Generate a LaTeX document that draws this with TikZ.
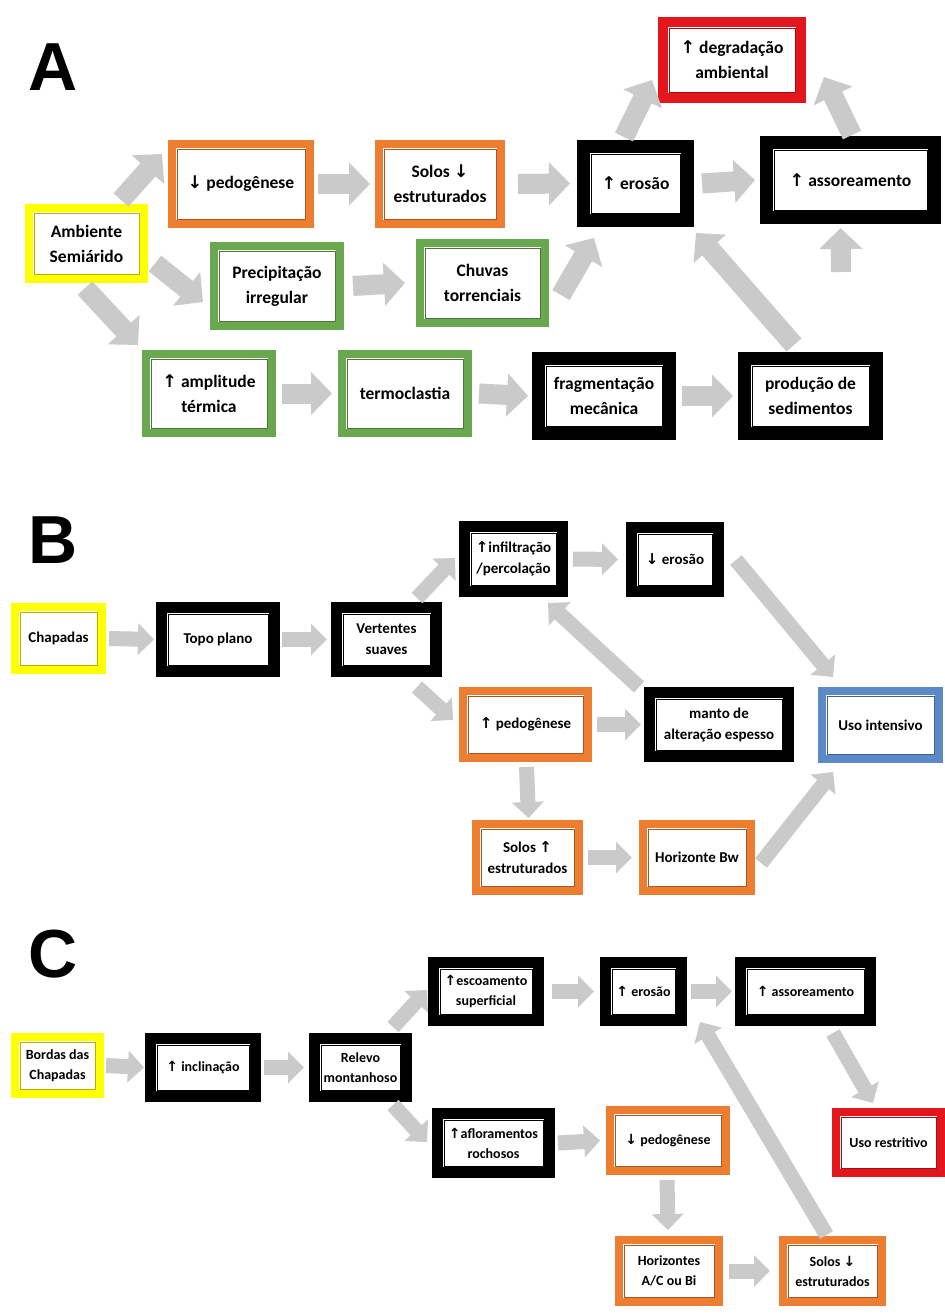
\documentclass[tikz,border=0pt]{standalone}
\usepackage{fontspec}
\setmainfont{Carlito}
\newfontfamily\arrfont{DejaVu Sans}
\newfontfamily\letfont{Liberation Sans}
\usetikzlibrary{arrows.meta,calc}
\newcommand\UA{{\arrfont\bfseries ↑}}
\newcommand\DA{{\arrfont\bfseries ↓}}
\definecolor{cor}{HTML}{ED7D31}
\definecolor{cgr}{HTML}{6AA84F}
\definecolor{cye}{HTML}{FFFF00}
\definecolor{cre}{HTML}{E3161B}
\definecolor{cbl}{HTML}{5B8AC6}
\definecolor{cag}{HTML}{CACACA}
\tikzset{
  box/.style 2 args={draw=#1, fill=white, line width=#2pt, align=center, inner sep=0pt,
    path picture={\draw[#1!70!black, line width=0.8pt]
      ([shift={({#2/2+1},{#2/2+1})}]path picture bounding box.north west) rectangle
      ([shift={({-#2/2-1},{-#2/2-1})}]path picture bounding box.south east);}},
  bigarr/.style={draw=cag, line width=20pt, -{Triangle[width=42pt,length=21pt]}},
  smallarr/.style={draw=cag, line width=15pt, -{Triangle[width=31pt,length=16pt]}},
  panelletter/.style={font=\letfont\bfseries\fontsize{68}{68}\selectfont, inner sep=0pt, anchor=north west},
}
% name, color, linewidth, x1, y1, x2, y2, text
\newcommand\bx[8]{\node[box={#2}{#3}, minimum width={#6-#4-#3}, minimum height={#7-#5-#3}] (#1) at ({(#4+#6)/2},{(#5+#7)/2}) {#8};}
\begin{document}
\begin{tikzpicture}[x=1pt,y=-1pt]
\useasboundingbox (0,0) rectangle (945,1315);
\fill[white] (0,0) rectangle (945,1315);

% ================= PANEL A =================
\node[panelletter] (la) at (28,44) {A};
\begin{scope}[every node/.append style={font=\fontsize{17.5}{25}\selectfont\bfseries}]
\bx{degr}{cre}{10}{658}{17}{806}{103}{\UA\ degradação\\ ambiental}
\bx{pedA}{cor}{8}{168}{140}{314}{228}{\DA\ pedogênese}
\bx{solA}{cor}{8}{375}{140}{505}{228}{Solos \DA\\ estruturados}
\bx{eroA}{black}{13}{577}{140}{694}{227}{\UA\ erosão}
\bx{assA}{black}{13}{760}{136}{941}{224}{\UA\ assoreamento}
\bx{amb}{cye}{8}{25}{204}{148}{283}{Ambiente\\ Semiárido}
\bx{prec}{cgr}{8}{210}{242}{344}{330}{Precipitação\\ irregular}
\bx{chuv}{cgr}{8}{416}{239}{549}{327}{Chuvas\\ torrenciais}
\bx{ampl}{cgr}{8}{142}{350}{276}{437}{\UA\ amplitude\\ térmica}
\bx{term}{cgr}{8}{338}{350}{472}{437}{termoclastia}
\bx{frag}{black}{13}{532}{352}{676}{440}{fragmentação\\ mecânica}
\bx{prod}{black}{13}{738}{352}{883}{440}{produção de\\ sedimentos}
\end{scope}
\coordinate (upsrc) at (841,272);
\draw[bigarr] ([shift={(-27,-4)}]amb.north east) -- ([shift={(-6,14)}]pedA.north west);
\draw[bigarr] ([shift={(7,20)}]amb.east) -- ([shift={(-7,16)}]prec.west);
\draw[bigarr] ([shift={(-63,5)}]amb.south east) -- ([shift={(-4,-5)}]ampl.north west);
\draw[bigarr] ([xshift=4]pedA.east) -- ([xshift=-5]solA.west);
\draw[bigarr] ([xshift=13]solA.east) -- ([xshift=-7]eroA.west);
\draw[bigarr] ([xshift=8]eroA.east) -- ([xshift=-5]assA.west);
\draw[bigarr] ([shift={(12,12)}]chuv.east) -- ([shift={(17,11)}]eroA.south west);
\draw[bigarr] ([shift={(-70,-3)}]eroA.north east) -- ([shift={(-6,-23)}]degr.south west);
\draw[bigarr] ([shift={(-89,-1)}]assA.north east) -- ([shift={(18,-26)}]degr.south east);
\draw[bigarr] (upsrc) -- ([xshift=-10,yshift=-4]assA.south);
\draw[bigarr] ([shift={(56,-7)}]prod.north west) -- ([shift={(2,6)}]eroA.south east);
\draw[bigarr] ([xshift=9]prec.east) -- ([xshift=-11]chuv.west);
\draw[bigarr] ([xshift=6]ampl.east) -- ([xshift=-6]term.west);
\draw[bigarr] ([xshift=7]term.east) -- ([xshift=-4]frag.west);
\draw[bigarr] ([xshift=6]frag.east) -- ([xshift=-5]prod.west);

% ================= PANEL B =================
\node[panelletter] (lb) at (28,517) {B};
\begin{scope}[every node/.append style={font=\fontsize{15}{21}\selectfont\bfseries}]
\bx{chap}{cye}{8}{11}{603}{106}{674}{Chapadas}
\bx{topo}{black}{11}{156}{602}{280}{677}{Topo plano}
\bx{vert}{black}{11}{331}{602}{442}{677}{Vertentes\\ suaves}
\bx{infi}{black}{11}{459}{521}{568}{597}{\UA infiltração\\ /percolação}
\bx{eroB}{black}{11}{626}{522}{724}{597}{\DA\ erosão}
\bx{pedB}{cor}{8}{459}{687}{592}{762}{\UA\ pedogênese}
\bx{mant}{black}{11}{644}{687}{794}{762}{manto de\\ alteração espesso}
\bx{usoi}{cbl}{8}{818}{687}{943}{763}{Uso intensivo}
\bx{solB}{cor}{8}{472}{820}{583}{895}{Solos \UA\\ estruturados}
\bx{horB}{cor}{8}{639}{820}{755}{895}{Horizonte Bw}
\end{scope}
\draw[smallarr] ([xshift=3]chap.east) -- ([xshift=-2]topo.west);
\draw[smallarr] ([xshift=2]topo.east) -- ([xshift=-4]vert.west);
\draw[smallarr] ([shift={(-25,-4)}]vert.north east) -- ([shift={(-4,-39)}]infi.south west);
\draw[smallarr] ([shift={(-25,10)}]vert.south east) -- ([shift={(-6,33)}]pedB.north west);
\draw[smallarr] ([xshift=5]infi.east) -- ([xshift=-8]eroB.west);
\draw[smallarr] ([shift={(12,-37)}]eroB.south east) -- ([shift={(15,-10)}]usoi.north west);
\draw[smallarr] ([shift={(-5,0)}]mant.north west) -- ([shift={(-20,6)}]infi.south east);
\draw[smallarr] ([xshift=5]pedB.east) -- ([xshift=-3]mant.west);
\draw[smallarr] ([xshift=1,yshift=-5]pedB.south) -- ([xshift=1,yshift=2]solB.north);
\draw[smallarr] ([xshift=5]solB.east) -- ([xshift=-7]horB.west);
\draw[smallarr] ([shift={(6,-32)}]horB.south east) -- ([shift={(15,9)}]usoi.south west);

% ================= PANEL C =================
\node[panelletter] (lc) at (28,930) {C};
\begin{scope}[every node/.append style={font=\fontsize{14}{20}\selectfont\bfseries}]
\bx{bord}{cye}{8}{11}{1033}{104}{1098}{Bordas das\\ Chapadas}
\bx{incl}{black}{11}{145}{1033}{261}{1102}{\UA\ inclinação}
\bx{rele}{black}{11}{309}{1033}{412}{1102}{Relevo\\ montanhoso}
\bx{esco}{black}{11}{428}{957}{544}{1026}{\UA escoamento\\ superficial}
\bx{eroC}{black}{11}{600}{957}{687}{1026}{\UA\ erosão}
\bx{assC}{black}{11}{735}{957}{876}{1026}{\UA\ assoreamento}
\bx{aflo}{black}{11}{432}{1108}{555}{1178}{\UA afloramentos\\ rochosos}
\bx{pedC}{cor}{8}{606}{1106}{730}{1175}{\DA\ pedogênese}
\bx{usor}{cre}{8}{832}{1108}{945}{1177}{Uso restritivo}
\bx{horC}{cor}{8}{615}{1236}{723}{1306}{Horizontes\\ A/C ou Bi}
\bx{solC}{cor}{8}{779}{1236}{886}{1306}{Solos \DA\\ estruturados}
\end{scope}
\draw[smallarr] ([xshift=2]bord.east) -- ([xshift=-1]incl.west);
\draw[smallarr] ([xshift=3]incl.east) -- ([xshift=-5]rele.west);
\draw[smallarr] ([shift={(-19,-6)}]rele.north east) -- ([shift={(-1,-36)}]esco.south west);
\draw[smallarr] ([shift={(-19,3)}]rele.south east) -- ([shift={(-5,34)}]aflo.north west);
\draw[smallarr] ([xshift=8]esco.east) -- ([xshift=-6]eroC.west);
\draw[smallarr] ([xshift=4]eroC.east) -- ([xshift=-3]assC.west);
\draw[smallarr] ([shift={(-43,7)}]assC.south east) -- ([shift={(41,-5)}]usor.north west);
\draw[smallarr] ([xshift=3]aflo.east) -- ([xshift=-6]pedC.west);
\draw[smallarr] ([xshift=-1,yshift=-5]pedC.south) -- ([xshift=-1,yshift=6]horC.north);
\draw[smallarr] ([xshift=6]horC.east) -- ([xshift=-9]solC.west);
\draw[smallarr] ([shift={(-6,-1)}]solC.north) -- ([shift={(13,-4)}]eroC.south east);
\end{tikzpicture}
\end{document}
